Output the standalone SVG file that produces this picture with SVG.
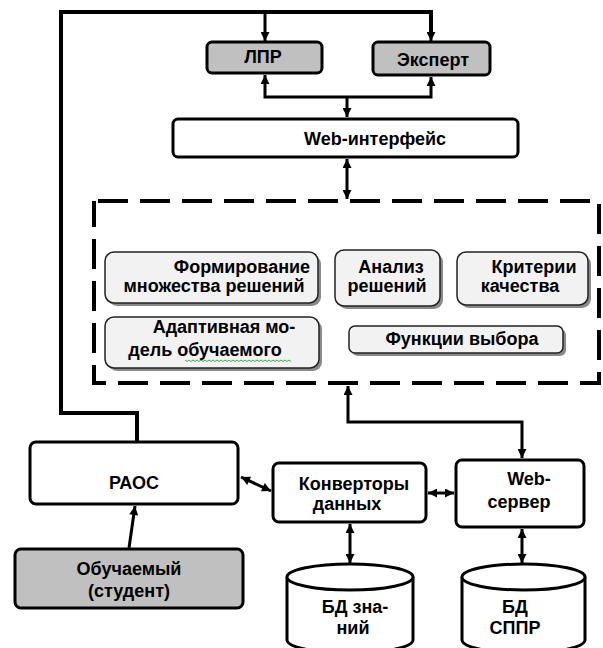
<svg xmlns="http://www.w3.org/2000/svg" width="603" height="648" viewBox="0 0 603 648">
<style>
  .t { font-family: "Liberation Sans", Arial, sans-serif; font-weight: bold; font-size: 18px; fill: #000; text-anchor: middle; }
  .main { stroke: #000; stroke-width: 3; fill: #fff; }
  .gray { fill: #c0c0c0; }
  .inner { fill: #f2f2f2; stroke: #222; stroke-width: 1.5; }
  .shadow { fill: #8a8a8a; }
  .c { fill: none; stroke: #000; stroke-width: 3; }
  .thick { stroke-width: 4; }
</style>
<defs>
  <marker id="ah" viewBox="0 0 10 10" refX="10" refY="5" markerWidth="10" markerHeight="9" markerUnits="userSpaceOnUse" orient="auto-start-reverse">
    <path d="M0,0 L10,5 L0,10 z" fill="#000"/>
  </marker>
</defs>
<rect width="603" height="648" fill="#fff"/>

<g id="connectors">
  <path class="c thick" d="M137,443 V413 H61 V12 H431 V32"/>
  <path class="c" d="M431,30 V41" marker-end="url(#ah)"/>
  <path class="c" d="M265,12 V41" marker-end="url(#ah)"/>
  <path class="c" d="M265,75 V97 H431 V77" marker-start="url(#ah)" marker-end="url(#ah)"/>
  <path class="c" d="M347,97 V117" marker-end="url(#ah)"/>
  <path class="c" d="M347,159 V199" marker-start="url(#ah)" marker-end="url(#ah)"/>
  <path class="c" d="M348,386 V422 H522 V458" marker-start="url(#ah)" marker-end="url(#ah)"/>
  <path class="c" d="M241,477 L271,491" marker-start="url(#ah)" marker-end="url(#ah)"/>
  <path class="c" d="M428,493 H454" marker-start="url(#ah)" marker-end="url(#ah)"/>
  <path class="c" d="M129,548 L135,506" marker-end="url(#ah)"/>
  <path class="c" d="M350,524 V563" marker-start="url(#ah)" marker-end="url(#ah)"/>
  <path class="c" d="M522,529 V563" marker-start="url(#ah)" marker-end="url(#ah)"/>
</g>

<g id="lpr">
  <rect class="main gray" x="207" y="42" width="115" height="31" rx="5"/>
  <text class="t" x="263" y="63">ЛПР</text>
</g>
<g id="expert">
  <rect class="main gray" x="373" y="42" width="117" height="33" rx="5"/>
  <text class="t" x="433" y="66">Эксперт</text>
</g>
<g id="web-interface">
  <rect class="main" x="173" y="119" width="345" height="38" rx="5"/>
  <text class="t" x="375" y="145">Web-интерфейс</text>
</g>

<g id="subsystem">
  <rect x="94" y="201" width="505" height="182" fill="none" stroke="#000" stroke-width="4" stroke-dasharray="30 12" stroke-dashoffset="-4"/>
</g>
<g id="formirovanie">
  <rect class="shadow" x="108" y="255" width="213" height="51" rx="9"/>
  <rect class="inner" x="105" y="252" width="213" height="51" rx="9"/>
  <text class="t" x="242" y="273">Формирование</text>
  <text class="t" x="214" y="292">множества решений</text>
</g>
<g id="analiz">
  <rect class="shadow" x="338" y="253" width="105" height="56" rx="9"/>
  <rect class="inner" x="335" y="250" width="105" height="56" rx="9"/>
  <text class="t" x="391" y="273">Анализ</text>
  <text class="t" x="387" y="292">решений</text>
</g>
<g id="kriterii">
  <rect class="shadow" x="460" y="255" width="131" height="53" rx="9"/>
  <rect class="inner" x="457" y="252" width="131" height="53" rx="9"/>
  <text class="t" x="534" y="273">Критерии</text>
  <text class="t" x="520" y="292">качества</text>
</g>
<g id="adaptivnaya">
  <rect class="shadow" x="108" y="320" width="214" height="51" rx="9"/>
  <rect class="inner" x="105" y="317" width="214" height="51" rx="9"/>
  <text class="t" x="224" y="333">Адаптивная мо-</text>
  <text class="t" x="205" y="356">дель обучаемого</text>
  <path d="M185,360 l2,1.5 l2,-1.5 l2,1.5 l2,-1.5 l2,1.5 l2,-1.5 l2,1.5 l2,-1.5 l2,1.5 l2,-1.5 l2,1.5 l2,-1.5 l2,1.5 l2,-1.5 l2,1.5 l2,-1.5 l2,1.5 l2,-1.5 l2,1.5 l2,-1.5 l2,1.5 l2,-1.5 l2,1.5 l2,-1.5 l2,1.5 l2,-1.5 l2,1.5 l2,-1.5 l2,1.5 l2,-1.5 l2,1.5 l2,-1.5 l2,1.5 l2,-1.5 l2,1.5 l2,-1.5 l2,1.5 l2,-1.5 l2,1.5 l2,-1.5 l2,1.5 l2,-1.5 l2,1.5 l2,-1.5 l2,1.5 l2,-1.5 l2,1.5 l2,-1.5 l2,1.5 l2,-1.5 l2,1.5 l2,-1.5 l2,1.5" fill="none" stroke="#3cb043" stroke-width="1"/>
</g>
<g id="funktsii">
  <rect class="shadow" x="352" y="329" width="214" height="27" rx="6"/>
  <rect class="inner" x="349" y="326" width="214" height="27" rx="6"/>
  <text class="t" x="462" y="345">Функции выбора</text>
</g>

<g id="raos">
  <rect class="main" x="30" y="442" width="208" height="62" rx="6"/>
  <text class="t" x="134" y="489">РАОС</text>
</g>
<g id="konvertory">
  <rect class="main" x="273" y="463" width="153" height="59" rx="6"/>
  <text class="t" x="354" y="490">Конверторы</text>
  <text class="t" x="347" y="510">данных</text>
</g>
<g id="web-server">
  <rect class="main" x="456" y="460" width="128" height="67" rx="6"/>
  <text class="t" x="529" y="485">Web-</text>
  <text class="t" x="519" y="508">сервер</text>
</g>
<g id="obuchaemyi">
  <rect class="main gray" x="15" y="549" width="228" height="59" rx="6"/>
  <text class="t" x="129" y="575">Обучаемый</text>
  <text class="t" x="129" y="597">(студент)</text>
</g>
<g id="bd-znanii">
  <path class="main" d="M287,577 V640 A63,13 0 0 0 413,640 V577"/>
  <ellipse class="main" cx="350" cy="577" rx="63" ry="13"/>
  <text class="t" x="355" y="613">БД зна-</text>
  <text class="t" x="353" y="634">ний</text>
</g>
<g id="bd-sppr">
  <path class="main" d="M462,577 V640 A61.5,13 0 0 0 585,640 V577"/>
  <ellipse class="main" cx="523.5" cy="577" rx="61.5" ry="13"/>
  <text class="t" x="515" y="613">БД</text>
  <text class="t" x="515" y="634">СППР</text>
</g>
</svg>
